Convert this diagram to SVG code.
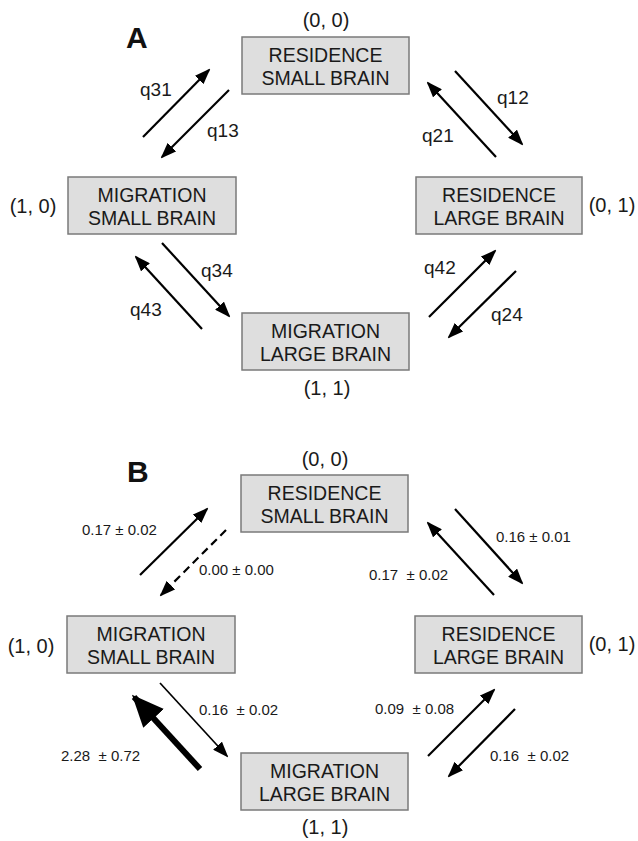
<svg xmlns="http://www.w3.org/2000/svg" width="638" height="841" viewBox="0 0 638 841">
<style>
.box{fill:#dedede;stroke:#7a7a7a;stroke-width:1.5}
.bt{font-family:"Liberation Sans",Arial,sans-serif;font-size:19.5px;fill:#1a1a1a;text-anchor:middle}
.co{font-family:"Liberation Sans",Arial,sans-serif;font-size:20px;fill:#1a1a1a;text-anchor:middle}
.q{font-family:"Liberation Sans",Arial,sans-serif;font-size:19px;fill:#1a1a1a}
.v{font-family:"Liberation Sans",Arial,sans-serif;font-size:15px;fill:#1a1a1a;white-space:pre}
.pl{font-family:"Liberation Sans",Arial,sans-serif;font-size:30px;font-weight:bold;fill:#111}
.ar{stroke:#000;stroke-width:2.2;fill:none;marker-end:url(#ah)}
.thin{stroke-width:1.7}
.dash{stroke-dasharray:8 5}
.thick{stroke:#000;stroke-width:6;fill:none;marker-end:url(#ahb)}
</style>
<defs>
<marker id="ah" markerUnits="userSpaceOnUse" markerWidth="16" markerHeight="12" refX="14" refY="6" orient="auto">
<path d="M0,0 L16,6 L0,12 z" fill="#000"/>
</marker>
<marker id="ahb" markerUnits="userSpaceOnUse" markerWidth="32" markerHeight="28" refX="29" refY="14" orient="auto">
<path d="M0,0 L32,14 L0,28 z" fill="#000"/>
</marker>
</defs>
<rect width="638" height="841" fill="#fff"/>

<text class="pl" x="126" y="48">A</text>
<text class="pl" x="127" y="482">B</text>

<!-- Panel A nodes -->
<g id="a-rs">
<rect class="box" x="242" y="37" width="167" height="57"/>
<text class="bt" x="325.5" y="62">RESIDENCE</text>
<text class="bt" x="325.5" y="85">SMALL BRAIN</text>
<text class="co" x="326" y="27">(0, 0)</text>
</g>
<g id="a-ms">
<rect class="box" x="68" y="177" width="168" height="57"/>
<text class="bt" x="152" y="202">MIGRATION</text>
<text class="bt" x="152" y="225">SMALL BRAIN</text>
<text class="co" x="33" y="213">(1, 0)</text>
</g>
<g id="a-rl">
<rect class="box" x="416" y="177" width="166" height="57"/>
<text class="bt" x="499" y="202">RESIDENCE</text>
<text class="bt" x="499" y="225">LARGE BRAIN</text>
<text class="co" x="612" y="212">(0, 1)</text>
</g>
<g id="a-ml">
<rect class="box" x="242" y="313" width="167" height="57"/>
<text class="bt" x="325.5" y="338">MIGRATION</text>
<text class="bt" x="325.5" y="361">LARGE BRAIN</text>
<text class="co" x="327" y="395">(1, 1)</text>
</g>

<!-- Panel B nodes -->
<g id="b-rs">
<rect class="box" x="241" y="475" width="167" height="57"/>
<text class="bt" x="324.5" y="500">RESIDENCE</text>
<text class="bt" x="324.5" y="523">SMALL BRAIN</text>
<text class="co" x="325" y="466">(0, 0)</text>
</g>
<g id="b-ms">
<rect class="box" x="67" y="616" width="168" height="57"/>
<text class="bt" x="151" y="641">MIGRATION</text>
<text class="bt" x="151" y="664">SMALL BRAIN</text>
<text class="co" x="31" y="653">(1, 0)</text>
</g>
<g id="b-rl">
<rect class="box" x="415" y="616" width="167" height="57"/>
<text class="bt" x="498.5" y="641">RESIDENCE</text>
<text class="bt" x="498.5" y="664">LARGE BRAIN</text>
<text class="co" x="612" y="651">(0, 1)</text>
</g>
<g id="b-ml">
<rect class="box" x="241" y="753" width="167" height="57"/>
<text class="bt" x="324.5" y="778">MIGRATION</text>
<text class="bt" x="324.5" y="801">LARGE BRAIN</text>
<text class="co" x="325" y="834">(1, 1)</text>
</g>

<!-- Connectors -->
<g id="connectors">
<line class="ar" x1="143" y1="137" x2="209" y2="70"/>
<line class="ar" x1="229" y1="90" x2="162" y2="157"/>
<line class="ar" x1="455" y1="71" x2="522" y2="144"/>
<line class="ar" x1="496" y1="157" x2="428" y2="83"/>
<line class="ar" x1="162" y1="243" x2="229" y2="316"/>
<line class="ar" x1="202" y1="329" x2="136" y2="257"/>
<line class="ar" x1="429" y1="317" x2="495" y2="251"/>
<line class="ar" x1="516" y1="271" x2="449" y2="337"/>

<line class="ar" x1="140" y1="575" x2="207" y2="509"/>
<line class="ar dash" x1="226" y1="530" x2="161" y2="595"/>
<line class="ar" x1="455" y1="509" x2="522" y2="583"/>
<line class="ar" x1="494" y1="595" x2="428" y2="523"/>
<line class="ar thin" x1="160" y1="683" x2="227" y2="756"/>
<line class="thick" x1="200" y1="769" x2="134" y2="697"/>
<line class="ar" x1="428" y1="756" x2="494" y2="690"/>
<line class="ar" x1="515" y1="709" x2="449" y2="776"/>
</g>

<!-- Connector labels -->
<g id="labels">
<text class="q" x="140" y="96">q31</text>
<text class="q" x="207" y="137">q13</text>
<text class="q" x="497" y="104">q12</text>
<text class="q" x="422" y="142">q21</text>
<text class="q" x="201" y="277">q34</text>
<text class="q" x="130" y="316">q43</text>
<text class="q" x="424" y="274">q42</text>
<text class="q" x="491" y="321">q24</text>

<text class="v" x="82" y="535" xml:space="preserve">0.17 ± 0.02</text>
<text class="v" x="199" y="575" xml:space="preserve">0.00 ± 0.00</text>
<text class="v" x="496" y="542" xml:space="preserve">0.16 ± 0.01</text>
<text class="v" x="369" y="580" xml:space="preserve">0.17  ± 0.02</text>
<text class="v" x="199" y="715" xml:space="preserve">0.16  ± 0.02</text>
<text class="v" x="61" y="761" xml:space="preserve">2.28  ± 0.72</text>
<text class="v" x="375" y="714" xml:space="preserve">0.09  ± 0.08</text>
<text class="v" x="490" y="761" xml:space="preserve">0.16  ± 0.02</text>
</g>
</svg>
